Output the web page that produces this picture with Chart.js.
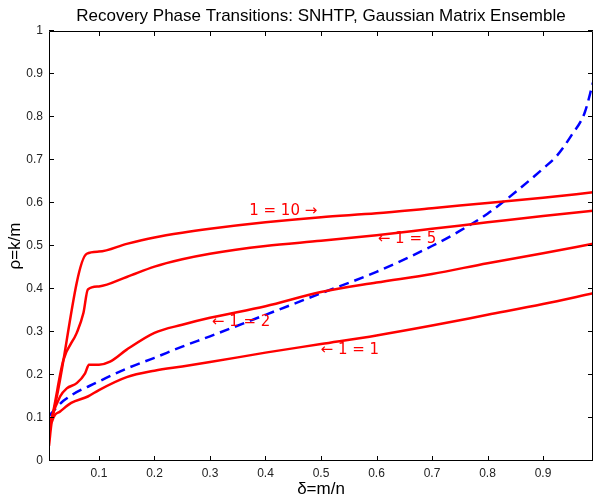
<!DOCTYPE html>
<html>
<head>
<meta charset="utf-8">
<script src="https://cdn.jsdelivr.net/npm/chart.js@4/dist/chart.umd.min.js"></script>
<style>
html,body{margin:0;padding:0;background:#fff;}
canvas{display:block;}
</style>
</head>
<body>
<canvas id="c" width="594" height="496"></canvas>
<script>
// ---- data ----
const xTicks = [0.1,0.2,0.3,0.4,0.5,0.6,0.7,0.8,0.9];
const yTicks = [0,0.1,0.2,0.3,0.4,0.5,0.6,0.7,0.8,0.9,1];

const l1X = [0.01,0.015,0.03,0.05,0.08,0.1,0.15,0.2,0.25,0.3,0.4,0.5,0.6,0.7,0.8,0.9,0.99];
const l1Y = [0.035,0.09,0.115,0.135,0.15,0.165,0.195,0.21,0.22,0.23,0.252,0.272,0.292,0.315,0.34,0.365,0.39];

const l2X = [0.01,0.015,0.03,0.042,0.06,0.075,0.082,0.1,0.12,0.15,0.2,0.25,0.3,0.4,0.5,0.6,0.7,0.8,0.9,0.99];
const l2Y = [0.07,0.1,0.15,0.169,0.181,0.204,0.224,0.224,0.231,0.259,0.298,0.317,0.333,0.36,0.393,0.415,0.435,0.46,0.483,0.505];

const l5X = [0.01,0.015,0.036,0.06,0.072,0.08,0.1,0.15,0.2,0.25,0.3,0.4,0.5,0.6,0.7,0.8,0.9,0.99];
const l5Y = [0.08,0.1,0.235,0.298,0.344,0.399,0.406,0.428,0.452,0.469,0.482,0.5,0.512,0.525,0.54,0.555,0.57,0.582];

const l10X = [0.01,0.015,0.078,0.1,0.15,0.2,0.25,0.3,0.4,0.5,0.6,0.7,0.8,0.9,0.99];
const l10Y = [0.09,0.1,0.482,0.487,0.505,0.52,0.531,0.54,0.555,0.567,0.576,0.588,0.6,0.612,0.625];

const blueX = [0.01,0.036,0.1,0.15,0.2,0.25,0.3,0.4,0.5,0.6,0.7,0.75,0.8,0.85,0.9,0.925,0.95,0.975,0.99];
const blueY = [0.105,0.14,0.185,0.215,0.24,0.266,0.29,0.34,0.39,0.44,0.5,0.535,0.575,0.625,0.68,0.71,0.755,0.81,0.88];

const curveLabels = [
  {text:"1 = 10 \u2192", x:0.432, y:0.580},
  {text:"\u2190 1 = 5", x:0.655, y:0.517},
  {text:"\u2190 1 = 2", x:0.356, y:0.324},
  {text:"\u2190 1 = 1", x:0.552, y:0.259}
];

const titleText = "Recovery Phase Transitions: SNHTP, Gaussian Matrix Ensemble";
const xTitle = "\u03b4=m/n";
const yTitle = "\u03c1=k/m";

function pts(xs, ys){ return xs.map((x,i)=>({x:x, y:ys[i]})); }

function redSet(xs, ys){
  return {data: pts(xs,ys), borderColor:'#ff0000', borderWidth:2.5, pointRadius:0,
          showLine:true, fill:false, cubicInterpolationMode:'monotone'};
}

const FONT = "'Liberation Sans', Arial, Helvetica, sans-serif";

const decor = {
  id:'decor',
  afterDraw(chart){
    const ctx = chart.ctx;
    const a = chart.chartArea;
    const xs = chart.scales.x, ys = chart.scales.y;
    ctx.save();
    // box
    ctx.strokeStyle = '#000';
    ctx.lineWidth = 1;
    ctx.beginPath();
    ctx.rect(Math.round(a.left)+0.5, Math.round(a.top)+0.5, Math.round(a.right-a.left)-1, Math.round(a.bottom-a.top)-1);
    ctx.stroke();
    // inward ticks
    const tl = 5;
    ctx.beginPath();
    xTicks.forEach(v=>{
      const px = Math.round(xs.getPixelForValue(v))+0.5;
      ctx.moveTo(px, a.bottom); ctx.lineTo(px, a.bottom-tl);
      ctx.moveTo(px, a.top); ctx.lineTo(px, a.top+tl);
    });
    yTicks.forEach(v=>{
      const py = Math.round(ys.getPixelForValue(v))-0.5;
      ctx.moveTo(a.left, py); ctx.lineTo(a.left+tl, py);
      ctx.moveTo(a.right, py); ctx.lineTo(a.right-tl, py);
    });
    ctx.stroke();
    // curve labels
    ctx.fillStyle = '#ff0000';
    ctx.font = "15px 'DejaVu Sans', sans-serif";
    ctx.textAlign = 'center';
    ctx.textBaseline = 'middle';
    curveLabels.forEach(l=>{
      ctx.fillText(l.text, xs.getPixelForValue(l.x), ys.getPixelForValue(l.y));
    });
    // title
    ctx.fillStyle = '#000';
    ctx.font = "17px " + FONT;
    ctx.fillText(titleText, (a.left+a.right)/2, 16);
    // axis titles
    ctx.font = "17px " + FONT;
    ctx.fillText(xTitle, (a.left+a.right)/2, 489);
    ctx.translate(15, (a.top+a.bottom)/2);
    ctx.rotate(-Math.PI/2);
    ctx.fillText(yTitle, 0, 0);
    ctx.restore();
  }
};

new Chart(document.getElementById('c'), {
  type:'scatter',
  data:{
    datasets:[
      redSet(l1X,l1Y),
      redSet(l2X,l2Y),
      redSet(l5X,l5Y),
      redSet(l10X,l10Y),
      {data: pts(blueX,blueY), borderColor:'#0000ff', borderWidth:2.5, borderDash:[10,6],
       pointRadius:0, showLine:true, fill:false, cubicInterpolationMode:'monotone'}
    ]
  },
  options:{
    responsive:false,
    animation:false,
    layout:{padding:{top:31, right:1, left:0, bottom:0}},
    plugins:{legend:{display:false}, tooltip:{enabled:false}, title:{display:false}},
    scales:{
      x:{type:'linear', min:0.01, max:0.99,
         afterBuildTicks: ax => { ax.ticks = xTicks.map(v=>({value:v})); },
         afterFit: ax => { ax.height = 35; },
         grid:{display:false, drawTicks:false},
         border:{display:false},
         ticks:{font:{family:FONT, size:12}, color:'#222', padding:5, maxRotation:0,
                callback: v => String(Math.round(v*10)/10)}},
      y:{type:'linear', min:0, max:1,
         afterBuildTicks: ax => { ax.ticks = yTicks.map(v=>({value:v})); },
         afterFit: ax => { ax.width = 49; },
         grid:{display:false, drawTicks:false},
         border:{display:false},
         ticks:{font:{family:FONT, size:12}, color:'#222', padding:6,
                callback: v => String(Math.round(v*10)/10)}}
    }
  },
  plugins:[decor]
});
</script>
</body>
</html>
